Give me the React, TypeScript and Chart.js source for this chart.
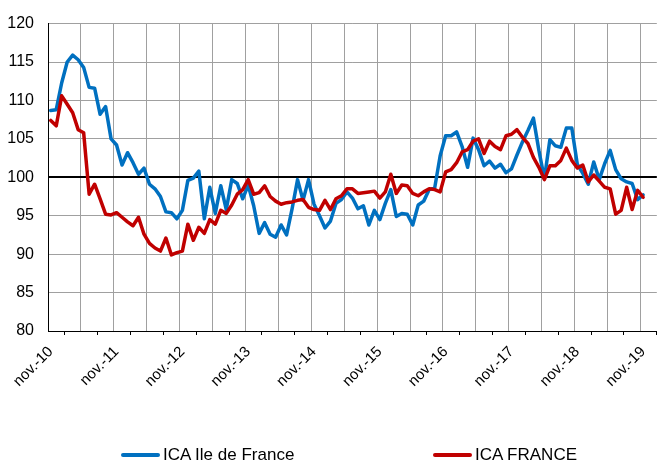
import React, { useEffect, useRef } from "react";
import { Chart, registerables } from "chart.js";

Chart.register(...registerables);

// Month labels shown on the axis (one every 12 months, first data month = nov.-10)
const xLabels = [
  "nov.-10", "nov.-11", "nov.-12", "nov.-13", "nov.-14",
  "nov.-15", "nov.-16", "nov.-17", "nov.-18", "nov.-19",
];

const seriesNames = ["ICA Ile de France", "ICA FRANCE"];
const seriesColors = ["#0070C0", "#C00000"];

// ICA Ile de France, monthly from nov.-10
const icaIdf = [
  108.7, 108.8, 112.3, 115.0, 115.9, 115.3, 114.3, 111.7, 111.6, 108.2,
  109.2, 105.0, 104.2, 101.6, 103.2, 101.9, 100.4, 101.2, 99.1, 98.5,
  97.5, 95.5, 95.4, 94.6, 95.7, 99.6, 99.9, 100.8, 94.6, 98.7,
  95.3, 98.9, 95.8, 99.7, 99.2, 97.2, 99.0, 96.3, 92.7, 94.1,
  92.6, 92.2, 93.8, 92.5, 95.9, 99.7, 97.0, 99.7, 96.5, 95.0,
  93.4, 94.3, 96.6, 97.1, 98.1, 97.3, 95.9, 96.3, 93.8, 95.7,
  94.5, 96.6, 98.4, 94.9, 95.3, 95.2, 93.8, 96.4, 96.9, 98.4,
  98.6, 102.8, 105.4, 105.4, 105.9, 104.0, 101.3, 105.1, 103.6, 101.5,
  102.1, 101.2, 101.7, 100.6, 101.1, 102.9, 104.6, 106.1, 107.7, 103.5,
  99.8, 104.9, 104.1, 103.9, 106.4, 106.4, 101.7, 100.5, 99.1, 102.0,
  99.7, 101.8, 103.5, 101.0, 99.8, 99.4, 99.2, 97.1, 97.7,
];

// ICA FRANCE, monthly from nov.-10
const icaFrance = [
  107.4, 106.7, 110.6, 109.5, 108.4, 106.2, 105.8, 97.8, 99.1, 97.2,
  95.2, 95.1, 95.4, 94.8, 94.2, 93.7, 94.8, 92.6, 91.4, 90.8,
  90.4, 92.1, 89.9, 90.2, 90.4, 93.9, 91.8, 93.5, 92.7, 94.5,
  93.9, 95.7, 95.3, 96.4, 97.8, 98.4, 99.7, 97.8, 98.0, 98.9,
  97.5, 96.9, 96.5, 96.7, 96.8, 97.0, 97.1, 96.1, 95.8, 95.7,
  97.0, 95.8, 97.2, 97.6, 98.5, 98.5, 97.9, 98.0, 98.1, 98.2,
  97.3, 98.1, 100.4, 97.9, 99.0, 98.9, 97.9, 97.6, 98.1, 98.5,
  98.4, 98.1, 100.7, 101.0, 101.9, 103.3, 103.6, 104.7, 105.0, 103.1,
  104.7, 104.0, 103.6, 105.4, 105.6, 106.2, 105.2, 104.4, 102.6, 101.3,
  99.7, 101.5, 101.5, 102.2, 103.8, 102.2, 101.2, 101.6, 99.4, 100.3,
  99.5, 98.7, 98.5, 95.2, 95.7, 98.7, 95.8, 98.3, 97.4,
];

// axis geometry (in months)
const AXIS_MONTHS = 111;
const LABEL_EVERY = 12;
const TICK_EVERY = 6;

const FONT = "'Liberation Sans', Arial, sans-serif";

export default function App() {
  const canvasRef = useRef<HTMLCanvasElement | null>(null);

  useEffect(() => {
    if (!canvasRef.current) return;
    const xMin = -0.5;
    const xMax = AXIS_MONTHS - 0.5;
    const labelValues = xLabels.map((_, i) => i * LABEL_EVERY);
    const tickValues: number[] = [];
    for (let v = xMin + TICK_EVERY / 2; v <= xMax + 1e-9; v += TICK_EVERY) tickValues.push(v);
    const gridValues: number[] = [];
    for (let v = xMin + TICK_EVERY; v < xMax - 1; v += TICK_EVERY) gridValues.push(v);

    const chart = new Chart(canvasRef.current, {
      type: "line",
      data: {
        datasets: [
          {
            label: seriesNames[0],
            data: icaIdf.map((v, i) => ({ x: i, y: v })),
            borderColor: seriesColors[0],
            backgroundColor: seriesColors[0],
            borderWidth: 3.5,
            pointRadius: 0,
            tension: 0,
            borderJoinStyle: "round",
            borderCapStyle: "round",
            xAxisID: "x",
            yAxisID: "y",
            order: 1,
          },
          {
            label: seriesNames[1],
            data: icaFrance.map((v, i) => ({ x: i, y: v })),
            borderColor: seriesColors[1],
            backgroundColor: seriesColors[1],
            borderWidth: 3.5,
            pointRadius: 0,
            tension: 0,
            borderJoinStyle: "round",
            borderCapStyle: "round",
            xAxisID: "x",
            yAxisID: "y",
            order: 0,
          },
        ],
      },
      options: {
        animation: false,
        responsive: false,
        devicePixelRatio: 1,
        layout: { padding: { top: 19, right: 2, left: 0, bottom: 0 } },
        plugins: {
          legend: { display: false },
          tooltip: { enabled: false },
        },
        scales: {
          x: {
            type: "linear",
            position: "bottom",
            weight: 0,
            min: xMin,
            max: xMax,
            afterBuildTicks: (s: any) => {
              s.ticks = tickValues.map((v) => ({ value: v }));
            },
            afterFit: (s: any) => {
              s.height = 4;
            },
            ticks: { display: false },
            grid: {
              display: true,
              drawOnChartArea: false,
              drawTicks: true,
              tickLength: 4,
              tickColor: "#000",
              tickWidth: 1,
            },
            border: { display: true, color: "#000", width: 1 },
          },
          xLab: {
            type: "linear",
            position: "bottom",
            weight: 1,
            min: xMin,
            max: xMax,
            afterBuildTicks: (s: any) => {
              s.ticks = labelValues.map((v) => ({ value: v }));
            },
            afterFit: (s: any) => {
              s.height = 129;
            },
            ticks: {
              autoSkip: false,
              minRotation: 45,
              maxRotation: 45,
              padding: 8,
              labelOffset: 0,
              color: "#000",
              font: { family: FONT, size: 15 },
              callback: (_v: any, i: number) => xLabels[i],
            },
            grid: { display: false, drawTicks: false },
            border: { display: false },
          },
          xGrid: {
            type: "linear",
            position: "top",
            min: xMin,
            max: xMax,
            afterBuildTicks: (s: any) => {
              s.ticks = gridValues.map((v) => ({ value: v }));
            },
            afterFit: (s: any) => {
              s.height = 0;
            },
            ticks: { display: false },
            grid: { display: true, drawTicks: false, color: "#a0a0a0", lineWidth: 1 },
            border: { display: false },
          },
          y: {
            type: "linear",
            min: 80,
            max: 120,
            afterFit: (s: any) => {
              s.width = 48;
            },
            ticks: {
              stepSize: 5,
              padding: 14,
              color: "#000",
              font: { family: FONT, size: 16 },
            },
            grid: {
              drawTicks: false,
              color: (c: any) =>
                c.tick && (c.tick.value === 100 || c.tick.value === 80) ? "#000" : "#a0a0a0",
              lineWidth: (c: any) => (c.tick && c.tick.value === 100 ? 2 : 1),
            },
            border: { display: true, color: "#000", width: 1 },
          },
        },
      },
    } as any);

    return () => chart.destroy();
  }, []);

  const legendItem = (i: number, left: number) => (
    <div
      key={i}
      style={{
        position: "absolute",
        left,
        top: 444,
        height: 22,
        display: "flex",
        alignItems: "center",
        whiteSpace: "nowrap",
      }}
    >
      <span
        style={{
          display: "inline-block",
          width: 39,
          height: 4,
          background: seriesColors[i],
          borderRadius: 2,
        }}
      />
      <span
        style={{
          marginLeft: 3,
          fontFamily: FONT,
          fontSize: 17,
          color: "#000",
        }}
      >
        {seriesNames[i]}
      </span>
    </div>
  );

  return (
    <div
      style={{
        position: "absolute",
        left: 0,
        top: 0,
        width: 664,
        height: 464,
        background: "#fff",
        overflow: "hidden",
      }}
    >
      <canvas
        ref={canvasRef}
        width={664}
        height={464}
        style={{ width: 664, height: 464, display: "block" }}
      />
      {legendItem(0, 121)}
      {legendItem(1, 433)}
    </div>
  );
}
